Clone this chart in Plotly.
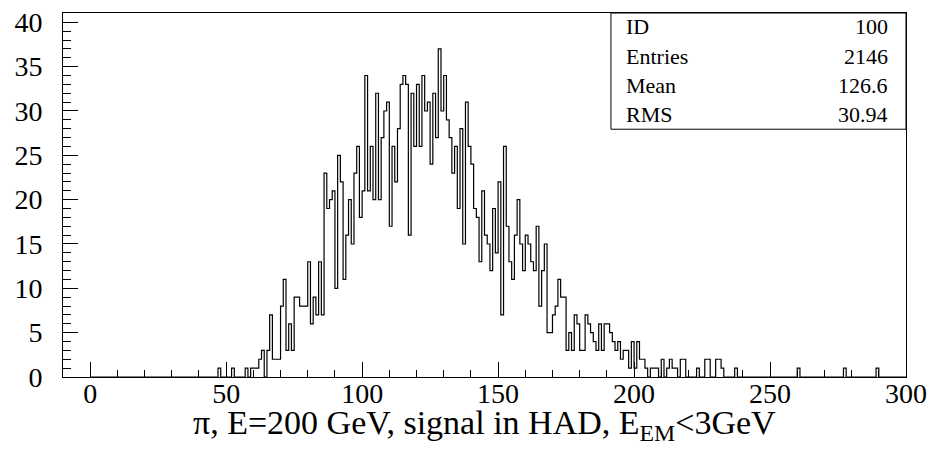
import numpy as np
import plotly.graph_objects as go

# Histogram: 300 bins of width 1 from 0 to 300; counts listed from bin FIRST_BIN upward
FIRST_BIN = 47
counts_47_79 = [1, 0, 0, 0, 0, 1, 0, 0, 0, 0, 1, 0, 1, 1, 1, 2, 3, 0, 3, 7,
                2, 2, 2, 8, 11, 3, 6, 3, 9, 9, 8, 8, 8]
counts_80_119 = [13, 6, 9, 7, 13, 7, 23, 19, 20, 21,
                 10, 25, 22, 11, 16, 20, 15, 23, 26, 18,
                 21, 34, 21, 26, 20, 32, 20, 27, 30, 31,
                 17, 26, 22, 28, 33, 34, 33, 16, 32, 26]
counts_120_159 = [33, 26, 34, 30, 31, 24, 32, 27, 37, 30,
                  34, 29, 27, 23, 26, 19, 28, 15, 31, 26,
                  24, 19, 18, 13, 21, 16, 15, 12, 19, 14,
                  22, 7, 26, 17, 13, 11, 16, 20, 15, 12]
counts_160_199 = [16, 15, 13, 12, 17, 8, 12, 15, 5, 5,
                  7, 8, 11, 9, 9, 3, 5, 3, 7, 6,
                  3, 3, 7, 6, 5, 4, 3, 6, 3, 6,
                  6, 5, 4, 3, 4, 2, 3, 3, 1, 4]
counts_200_239 = [1, 4, 2, 2, 1, 0, 1, 1, 1, 0,
                  2, 0, 1, 2, 1, 1, 0, 2, 2, 0,
                  0, 0, 0, 1, 0, 0, 2, 2, 0, 0,
                  2, 2, 1, 0, 0, 0, 0, 1, 0, 0]
counts_240_289 = [0] * 20 + [1] + [0] * 16 + [1] + [0] * 11 + [1]

N_BINS = 300
X_MIN, X_MAX = 0, 300

stats_labels = ["ID", "Entries", "Mean", "RMS"]
stats_values = ["100", "2146", "126.6", "30.94"]

x_title = "π, E=200 GeV, signal in HAD, E<sub>EM</sub><3GeV"
x_tickvals = [0, 50, 100, 150, 200, 250, 300]
y_tickvals = [0, 5, 10, 15, 20, 25, 30, 35, 40]

# ---- build full histogram ----
counts = np.zeros(N_BINS)
seq = counts_47_79 + counts_80_119 + counts_120_159 + counts_160_199 + counts_200_239 + counts_240_289
counts[FIRST_BIN:FIRST_BIN + len(seq)] = seq
edges = np.linspace(X_MIN, X_MAX, N_BINS + 1)

xs = np.concatenate([[edges[0]], edges[:-1], [edges[-1], edges[-1]]])
ys = np.concatenate([[0], counts, [counts[-1], 0]])

FONT = "Liberation Serif, Times New Roman, Times, serif"

fig = go.Figure()
fig.add_trace(go.Scatter(x=xs, y=ys, mode="lines", line=dict(color="black", width=1.2, shape="hv"),
                         hoverinfo="skip", showlegend=False))

fig.update_layout(
    width=935, height=457,
    margin=dict(l=63, r=25.5, t=7.5, b=79.5),
    paper_bgcolor="white", plot_bgcolor="white",
    font=dict(family=FONT, color="black", size=28),
    showlegend=False,
)
fig.update_xaxes(
    range=[-10, 300], showgrid=False, zeroline=False,
    showline=True, linecolor="black", linewidth=1, mirror=True,
    ticks="inside", ticklen=15, tickcolor="black", tickwidth=1,
    tickvals=x_tickvals, tickfont=dict(size=28, family=FONT),
    minor=dict(dtick=10, tick0=0, ticks="inside", ticklen=7, tickcolor="black", tickwidth=1),
    ticklabelstandoff=-9, ticklabeloverflow="allow",
)
fig.update_yaxes(
    range=[0, 41.05], showgrid=False, zeroline=False,
    showline=True, linecolor="black", linewidth=1, mirror=True,
    ticks="inside", ticklen=15, tickcolor="black", tickwidth=1,
    tickvals=y_tickvals, tickfont=dict(size=28, family=FONT),
    minor=dict(dtick=1, tick0=0, ticks="inside", ticklen=8, tickcolor="black", tickwidth=1),
    ticklabelstandoff=14, ticklabeloverflow="allow",
)

fig.add_annotation(text=x_title, xref="paper", yref="paper", x=0.5, y=-0.132,
                   xanchor="center", yanchor="middle", showarrow=False,
                   font=dict(size=34, family=FONT, color="black"))

# stats box
fig.add_shape(type="rect", xref="paper", yref="paper", x0=0.650, x1=1.0, y0=0.6807, y1=1.0,
              line=dict(color="black", width=1), fillcolor="white", layer="above")
row_y = [0.962, 0.881, 0.800, 0.721]
for lab, val, yy in zip(stats_labels, stats_values, row_y):
    fig.add_annotation(text=lab, xref="paper", yref="paper", x=0.666, y=yy, xanchor="left",
                       yanchor="middle", showarrow=False, font=dict(size=22, family=FONT, color="black"))
    fig.add_annotation(text=val, xref="paper", yref="paper", x=0.9805, y=yy, xanchor="right",
                       yanchor="middle", showarrow=False, font=dict(size=22, family=FONT, color="black"))

# remove the browser's default 8px body margin so the figure fills the window exactly
fig.write_html("out.html", config={"displayModeBar": False},
               post_script="document.body.style.margin='0px';")
